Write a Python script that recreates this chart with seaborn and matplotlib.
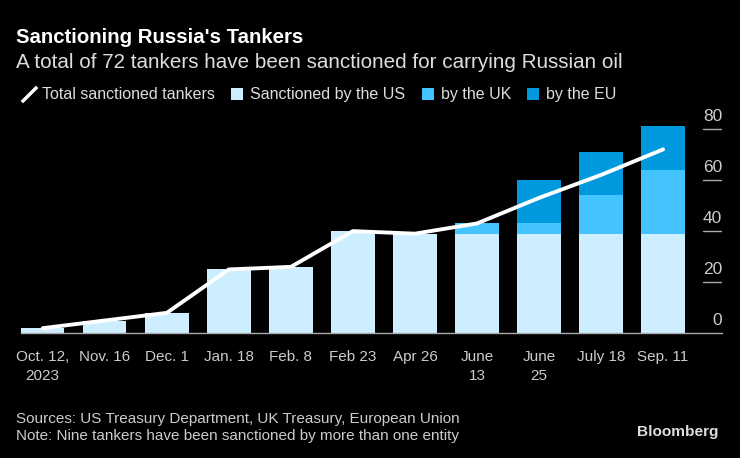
import numpy as np
import pandas as pd
import matplotlib
matplotlib.use("Agg")
import matplotlib.pyplot as plt
import matplotlib.transforms as mtransforms
from matplotlib.lines import Line2D
from matplotlib.patches import Patch
import seaborn as sns

# data
dates = ["Oct. 12,\n2023", "Nov. 16", "Dec. 1", "Jan. 18", "Feb. 8", "Feb 23",
         "Apr 26", "June\n13", "June\n25", "July 18", "Sep. 11"]
us = [2, 5, 8, 25, 26, 40, 39, 39, 39, 39, 39]
uk = [0, 0, 0, 0, 0, 0, 0, 4, 4, 15, 25]
eu = [0, 0, 0, 0, 0, 0, 0, 0, 17, 17, 17]
total = [2, 5, 8, 25, 26, 40, 39, 43, 53, 62, 72]
y_ticks = [0, 20, 40, 60, 80]

C_US = "#cceeff"
C_UK = "#44c4ff"
C_EU = "#0099dd"
BG = "#000000"

sns.set_style("dark")
plt.rcParams["font.family"] = ["Liberation Sans", "DejaVu Sans"]

df = pd.DataFrame({"date": dates, "us": us, "uk": uk, "eu": eu, "total": total})
df["pos"] = np.arange(len(df))

fig = plt.figure(figsize=(7.4, 4.58), dpi=100, facecolor=BG)
ax = fig.add_axes([0.0284, 0.2723, 0.9473, 0.4740])
ax.set_facecolor(BG)

# stacked bars: US at the bottom, then UK, then EU
sns.barplot(data=df, x="date", y="us", order=dates, color=C_US, width=0.7,
            saturation=1, ax=ax, linewidth=0)
sns.barplot(data=df, x="date", y="uk", order=dates, color=C_UK, width=0.7,
            saturation=1, ax=ax, linewidth=0, bottom=df["us"])
sns.barplot(data=df, x="date", y="eu", order=dates, color=C_EU, width=0.7,
            saturation=1, ax=ax, linewidth=0, bottom=df["us"] + df["uk"])
sns.lineplot(data=df, x="pos", y="total", color="white", linewidth=2.8, ax=ax,
             solid_capstyle="round", solid_joinstyle="round")

ax.set_xlim(-0.35, 10.95)
ax.set_ylim(0, 85)
ax.set_xlabel("")
ax.set_ylabel("")
ax.grid(False)
for s in ["top", "right", "left"]:
    ax.spines[s].set_visible(False)
ax.spines["bottom"].set_color("#aaaaaa")
ax.spines["bottom"].set_linewidth(1)
ax.set_xticks(range(len(dates)))
ax.set_xticklabels(dates, fontsize=11, color="#cccccc", linespacing=1.45)
ax.tick_params(axis="x", colors="#999999", length=6, width=1, pad=6, labelcolor="#cccccc")
ax.set_yticks([])

# short gridlines with labels sitting on them at the right edge
trans = mtransforms.blended_transform_factory(ax.transAxes, ax.transData)
for v in y_ticks:
    if v > 0:
        ax.axhline(v, xmin=0.973, xmax=1.0, color="#aaaaaa", linewidth=1)
    ax.text(1.0, v + 2.0, str(v), transform=trans, ha="right", va="bottom",
            fontsize=12.5, color="#cccccc")

fig.text(0.0216, 0.919, "Sanctioning Russia's Tankers", fontsize=14.7, fontweight="bold",
         color="white", va="center")
fig.text(0.0216, 0.863, "A total of 72 tankers have been sanctioned for carrying Russian oil",
         fontsize=14.9, color="#dddddd", va="center")

handles = [
    Line2D([], [], color="white", marker=[(-1, -1), (1, 1)], markersize=11,
           markeredgewidth=2.5, linestyle="none"),
    Patch(facecolor=C_US, edgecolor="none"),
    Patch(facecolor=C_UK, edgecolor="none"),
    Patch(facecolor=C_EU, edgecolor="none"),
]
labels = ["Total sanctioned tankers", "Sanctioned by the US", "by the UK", "by the EU"]
leg = fig.legend(handles, labels, loc="center left", bbox_to_anchor=(0.012, 0.793),
                 ncol=4, frameon=False, fontsize=11.5, handlelength=0.75,
                 handleheight=0.75, handletextpad=0.45, columnspacing=1.0,
                 labelcolor="#dddddd")

fig.text(0.0216, 0.085, "Sources: US Treasury Department, UK Treasury, European Union",
         fontsize=11.0, color="#cccccc", va="center")
fig.text(0.0216, 0.048, "Note: Nine tankers have been sanctioned by more than one entity",
         fontsize=11.0, color="#cccccc", va="center")
fig.text(0.9703, 0.057, "Bloomberg", fontsize=11.1, fontweight="bold", color="#dddddd",
         ha="right", va="center")

fig.savefig("out.png", dpi=100, facecolor=BG)
